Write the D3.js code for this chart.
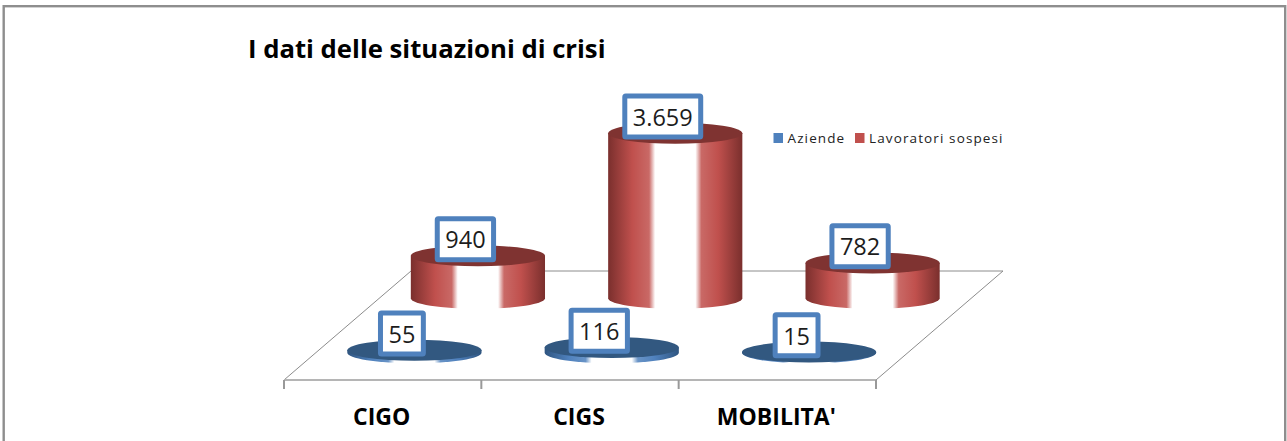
<!DOCTYPE html>
<html>
<head>
<meta charset="utf-8">
<script src="https://cdnjs.cloudflare.com/ajax/libs/d3/7.8.5/d3.min.js"></script>
<style>
  html, body { margin: 0; padding: 0; background: #fff; overflow: hidden; }
  svg { display: block; }
  text { font-family: "Open Sans", sans-serif; }
</style>
</head>
<body>
<script>
var categories = ['CIGO', 'CIGS', "MOBILITA'"];
var seriesNames = ['Aziende', 'Lavoratori sospesi'];
var aziende = [55, 116, 15];
var lavoratori = [940, 3659, 782];
var valueLabels = [['55', '116', '15'], ['940', '3.659', '782']];
var titleText = 'I dati delle situazioni di crisi';

var width = 1287, height = 441;
var floorLeft = 284, floorRight = 876, floorFront = 380, floorBack = 271;
var shear = 127 / (floorFront - floorBack);
var radiusY = 10.5;

var x = d3.scaleBand().domain(categories).range([floorLeft, floorRight]);
var depth = d3.scaleBand().domain(seriesNames).range([floorFront, floorBack]);
var h = d3.scaleLinear().domain([0, 4000]).range([0, 180.4]);
var radiusX = x.bandwidth() * 0.34;

var palette = {
  'Aziende': { main: '#4f81bd', dark: '#2f5580', top: '#325880', id: 'cylBlue' },
  'Lavoratori sospesi': { main: '#c0504d', dark: '#7a2f2d', top: '#7f3331', id: 'cylRed' }
};

var svg = d3.select('body').append('svg')
    .attr('width', width)
    .attr('height', height);

// frame runs off the bottom of the picture
svg.append('rect')
    .attr('x', 3.7).attr('y', 6.2)
    .attr('width', 1281.5).attr('height', 470)
    .attr('fill', '#fff')
    .attr('stroke', '#8e8e8e')
    .attr('stroke-width', 2.4);

var defs = svg.append('defs');
seriesNames.forEach(function(name) {
  var p = palette[name];
  var grad = defs.append('linearGradient').attr('id', p.id);
  var stops = [
    [0, p.dark], [0.18, p.main], [0.305, d3.interpolateRgb(p.main, '#fff')(0.14)],
    [0.35, '#fff'], [0.65, '#fff'],
    [0.695, d3.interpolateRgb(p.main, '#fff')(0.14)], [0.82, p.main], [1, p.dark]
  ];
  stops.forEach(function(s) {
    grad.append('stop').attr('offset', s[0]).attr('stop-color', s[1]);
  });
});

svg.append('text')
    .attr('x', 248).attr('y', 58)
    .attr('font-size', 25.7)
    .attr('font-weight', 700)
    .attr('fill', '#000')
    .text(titleText);

// floor
var floor = svg.append('g').attr('fill', 'none');
var backShift = (floorFront - floorBack) * shear;
floor.append('path')
    .attr('d', 'M' + floorLeft + ',' + floorFront + 'L' + (floorLeft + backShift) + ',' + floorBack +
        'L' + (floorRight + backShift) + ',' + floorBack + 'L' + floorRight + ',' + floorFront)
    .attr('stroke', '#8c8c8c')
    .attr('stroke-width', 1);
floor.append('line')
    .attr('x1', floorLeft).attr('x2', floorRight)
    .attr('y1', floorFront).attr('y2', floorFront)
    .attr('stroke', '#b5b5b5')
    .attr('stroke-width', 2);
floor.selectAll('line.tick')
    .data(categories.map(function(c) { return x(c); }).concat([floorRight]))
    .enter()
    .append('line')
    .attr('class', 'tick')
    .attr('x1', function(d) { return d; }).attr('x2', function(d) { return d; })
    .attr('y1', floorFront).attr('y2', floorFront + 9)
    .attr('stroke', '#999')
    .attr('stroke-width', 2);

svg.selectAll('text.cat')
    .data(categories)
    .enter()
    .append('text')
    .attr('class', 'cat')
    .attr('x', function(d) { return x(d) + x.bandwidth() / 2 - 1; })
    .attr('y', 425)
    .attr('text-anchor', 'middle')
    .attr('font-size', 23)
    .attr('font-weight', 700)
    .attr('fill', '#000')
    .text(function(d) { return d; });

// back series first so the front row overlaps it
var rows = [
  { name: seriesNames[1], values: lavoratori, labels: valueLabels[1] },
  { name: seriesNames[0], values: aziende, labels: valueLabels[0] }
];
var cyls = [];
rows.forEach(function(row) {
  var baseY = depth(row.name) + depth.bandwidth() / 2;
  row.values.forEach(function(v, i) {
    cyls.push({
      name: row.name,
      label: row.labels[i],
      cx: x(categories[i]) + x.bandwidth() / 2 + (floorFront - baseY) * shear,
      baseY: baseY,
      topY: baseY - h(v)
    });
  });
});

function sidePath(d) {
  return 'M' + (d.cx - radiusX) + ',' + d.topY +
      'L' + (d.cx - radiusX) + ',' + d.baseY +
      'A' + radiusX + ',' + radiusY + ' 0 0 0 ' + (d.cx + radiusX) + ',' + d.baseY +
      'L' + (d.cx + radiusX) + ',' + d.topY + 'Z';
}

svg.selectAll('path.side')
    .data(cyls)
    .enter()
    .append('path')
    .attr('class', 'side')
    .attr('d', sidePath)
    .attr('fill', function(d) { return 'url(#' + palette[d.name].id + ')'; });

svg.selectAll('ellipse.top')
    .data(cyls)
    .enter()
    .append('ellipse')
    .attr('class', 'top')
    .attr('cx', function(d) { return d.cx; })
    .attr('cy', function(d) { return d.topY; })
    .attr('rx', radiusX)
    .attr('ry', radiusY)
    .attr('fill', function(d) { return palette[d.name].top; });

// value boxes sized from their text
var labels = svg.selectAll('g.value')
    .data(cyls)
    .enter()
    .append('g')
    .attr('class', 'value')
    .attr('transform', function(d) {
      return 'translate(' + (d.cx - 12.5) + ',' + (d.topY - 16.7) + ')';
    });
var boxes = labels.append('rect');
var texts = labels.append('text')
    .attr('text-anchor', 'middle')
    .attr('y', 9.2)
    .attr('font-size', 23.5)
    .attr('fill', '#1c1c1c')
    .text(function(d) { return d.label; });
texts.each(function(d) { d.tw = this.getComputedTextLength(); });
boxes
    .attr('x', function(d) { return -(d.tw + 16) / 2; })
    .attr('y', -20.5)
    .attr('width', function(d) { return d.tw + 16; })
    .attr('height', 41)
    .attr('rx', 1)
    .attr('fill', '#fff')
    .attr('stroke', '#4f81bd')
    .attr('stroke-width', 5);

// legend
var legendX = [773.5, 855];
var legend = svg.selectAll('g.legend')
    .data(seriesNames)
    .enter()
    .append('g')
    .attr('class', 'legend')
    .attr('transform', function(d, i) { return 'translate(' + legendX[i] + ',133)'; });
legend.append('rect')
    .attr('width', 9.5)
    .attr('height', 10)
    .attr('fill', function(d) { return palette[d].main; });
legend.append('text')
    .attr('x', 14)
    .attr('y', 10)
    .attr('font-size', 13.5)
    .attr('letter-spacing', 1.12)
    .attr('fill', '#222')
    .text(function(d) { return d; });
</script>
</body>
</html>
